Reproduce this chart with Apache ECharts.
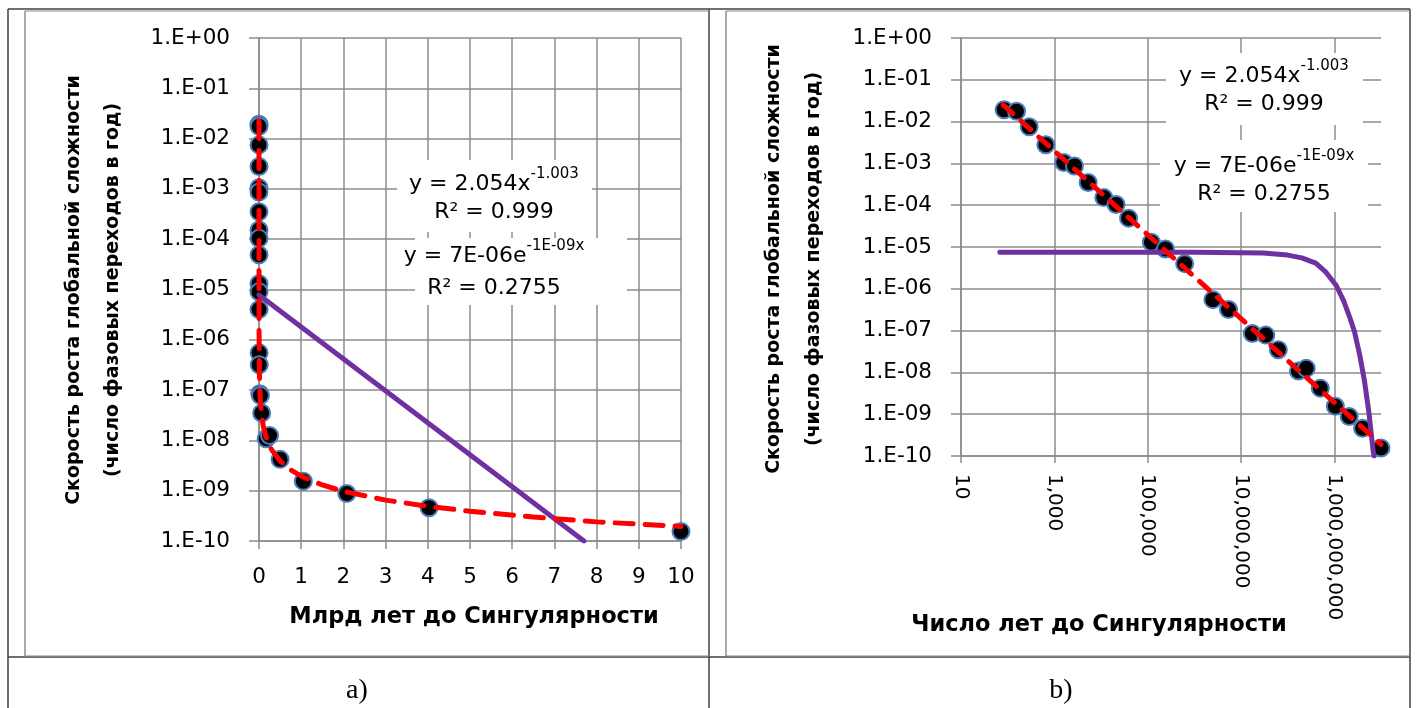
<!DOCTYPE html>
<html><head><meta charset="utf-8">
<script src="https://cdn.jsdelivr.net/npm/echarts@6/dist/echarts.min.js"></script>
<style>html,body{margin:0;padding:0;background:#fff;}#c{width:1416px;height:708px;}</style>
</head><body><div id="c"></div>
<script>
// ---- data ----
const yearsToSingularity = [84, 155, 289, 658, 1600, 2700, 5300, 11500, 21000, 39000, 120000, 240000, 620000,
  2.5e6, 5.4e6, 1.75e7, 3.4e7, 6.3e7, 1.7e8, 2.5e8, 5.0e8, 1.05e9, 2.08e9, 4.03e9, 1.0e10];
const growthRate = [1.93e-2, 1.76e-2, 7.5e-3, 2.8e-3, 1.05e-3, 8.7e-4, 3.5e-4, 1.52e-4, 1.04e-4, 4.9e-5, 1.3e-5, 9.0e-6, 4.0e-6,
  5.5e-7, 3.2e-7, 8.5e-8, 7.8e-8, 3.5e-8, 1.08e-8, 1.25e-8, 4.2e-9, 1.55e-9, 8.8e-10, 4.6e-10, 1.55e-10];

const rateTicks = [1e-10, 1e-9, 1e-8, 1e-7, 1e-6, 1e-5, 1e-4, 1e-3, 1e-2, 1e-1, 1];
const yearTicks = [10, 1e3, 1e5, 1e7, 1e9];

// trend lines as seen in the picture (a: x in billions of years, b: x in years)
const powerTrendA_x = [8e-8, 0.001, 0.01, 0.03, 0.06, 0.1, 0.15, 0.2, 0.3, 0.5, 0.75, 1, 1.5, 2, 3, 4, 5, 6.5, 8, 10];
const powerTrendA_y = [2.3e-2, 2.0e-6, 2.0e-7, 6.5e-8, 3.3e-8, 1.95e-8, 1.3e-8, 9.8e-9, 6.5e-9, 3.9e-9, 2.6e-9, 1.95e-9, 1.3e-9, 9.7e-10, 6.5e-10, 4.9e-10, 3.9e-10, 3.0e-10, 2.4e-10, 1.95e-10];
const expTrendA_x = [0, 7.7];
const expTrendA_y = [7.8e-6, 1.0e-10];
const powerTrendB_x = [80, 1.0e10];
const powerTrendB_y = [2.5e-2, 1.9e-10];
const expTrendB_x = [68, 1e6, 3e7, 1e8, 2e8, 4e8, 6.6e8, 1.1e9, 1.6e9, 2.1e9, 2.7e9, 3.5e9, 4.4e9, 5.5e9, 6.8e9, 7.1e9];
const expTrendB_y = [7.5e-6, 7.5e-6, 7.2e-6, 6.4e-6, 5.5e-6, 4.1e-6, 2.5e-6, 1.2e-6, 5.0e-7, 2.2e-7, 9.5e-8, 2.6e-8, 6.5e-9, 1.1e-9, 1.3e-10, 1.0e-10];

const yTitle = 'Скорость роста глобальной сложности\n(число фазовых переходов в год)';
const xTitleA = 'Млрд лет до Сингулярности';
const xTitleB = 'Число лет до Сингулярности';

// ---- helpers ----
const zip = (xs, ys) => xs.map((x, i) => [x, ys[i]]);
const sciLabel = v => { const e = Math.round(Math.log10(v)); const a = Math.abs(e); return '1.E' + (e < 0 ? '-' : '+') + (a < 10 ? '0' : '') + a; };
const commaLabel = v => String(Math.round(v)).replace(/\B(?=(\d{3})+(?!\d))/g, ',');

const GRID = '#8c8c8c';
const FONT = 'DejaVu Sans';
const lineCommon = { lineStyle: { color: GRID, width: 1.5 } };

function yAxisLog(gi) {
  return {
    gridIndex: gi, type: 'log', logBase: 10, min: 1e-10, max: 1,
    axisLine: { show: true, ...lineCommon },
    axisTick: { show: true, length: 10, customValues: rateTicks, ...lineCommon },
    splitLine: { show: true, ...lineCommon },
    axisLabel: { customValues: rateTicks, formatter: sciLabel, margin: 29, color: '#000', fontSize: 21.5, fontFamily: FONT }
  };
}

const markerStyle = { color: '#000', borderColor: '#4a7ebb', borderWidth: 2, opacity: 1 };

const chart = echarts.init(document.getElementById('c'), null, { renderer: 'canvas' });

function eqBlock(cx, y1, y2, y3, y4) {
  const s = { fontFamily: FONT, fill: '#000' };
  return [
    { type: 'text', x: cx, y: y1, z: 12, style: { ...s, text: '{n|y = 2.054x}{s|-1.003}', align: 'center', textAlign: 'center', verticalAlign: 'middle', textVerticalAlign: 'middle',
      rich: { n: { fontSize: 22, fontFamily: FONT, lineHeight: 28, verticalAlign: 'bottom' }, s: { fontSize: 15, fontFamily: FONT, lineHeight: 28, verticalAlign: 'top' } } } },
    { type: 'text', x: cx, y: y2, z: 12, style: { ...s, text: 'R² = 0.999', fontSize: 22, align: 'center', textAlign: 'center', verticalAlign: 'middle', textVerticalAlign: 'middle' } },
    { type: 'text', x: cx, y: y3, z: 12, style: { ...s, text: '{n|y = 7E-06e}{s|-1E-09x}', align: 'center', textAlign: 'center', verticalAlign: 'middle', textVerticalAlign: 'middle',
      rich: { n: { fontSize: 22, fontFamily: FONT, lineHeight: 28, verticalAlign: 'bottom' }, s: { fontSize: 15, fontFamily: FONT, lineHeight: 28, verticalAlign: 'top' } } } },
    { type: 'text', x: cx, y: y4, z: 12, style: { ...s, text: 'R² = 0.2755', fontSize: 22, align: 'center', textAlign: 'center', verticalAlign: 'middle', textVerticalAlign: 'middle' } }
  ];
}

const TABLE = '#404040';
const AREA = '#8c8c8c';
const ln = (x1, y1, x2, y2, c, w) => ({ type: 'line', z: 20, shape: { x1, y1, x2, y2 }, style: { stroke: c, lineWidth: w } });

const graphics = [
  // table
  ln(8, 9, 1410, 9, TABLE, 1.5), ln(8, 9, 8, 708, TABLE, 1.5), ln(1410, 9, 1410, 708, TABLE, 1.5),
  ln(709, 9, 709, 708, TABLE, 1.5), ln(8, 657, 1410, 657, TABLE, 1.5),
  // chart areas
  ln(25, 11, 709, 11, AREA, 1.2), ln(25, 11, 25, 656, AREA, 1.5), ln(25, 656, 709, 656, AREA, 1.2),
  ln(726, 11, 1410, 11, AREA, 1.2), ln(726, 11, 726, 656, AREA, 1.5), ln(726, 656, 1410, 656, AREA, 1.2),
  // white label boxes
  { type: 'rect', z: 10, shape: { x: 397, y: 160, width: 195, height: 72 }, style: { fill: '#fff' } },
  { type: 'rect', z: 10, shape: { x: 415, y: 238, width: 212, height: 67 }, style: { fill: '#fff' } },
  { type: 'rect', z: 10, shape: { x: 1166, y: 53, width: 197, height: 72 }, style: { fill: '#fff' } },
  { type: 'rect', z: 10, shape: { x: 1160, y: 140, width: 208, height: 72 }, style: { fill: '#fff' } },
  ...eqBlock(494, 181, 212, 253, 288),
  ...eqBlock(1264, 73, 104, 163, 194),
  // axis titles
  { type: 'text', x: 94, y: 290, rotation: Math.PI / 2, z: 12, style: { text: yTitle, fontFamily: FONT, fontWeight: 'bold', fontSize: 19, lineHeight: 39, fill: '#000', align: 'center', textAlign: 'center', verticalAlign: 'middle', textVerticalAlign: 'middle' } },
  { type: 'text', x: 794, y: 259, rotation: Math.PI / 2, z: 12, style: { text: yTitle, fontFamily: FONT, fontWeight: 'bold', fontSize: 19, lineHeight: 40, fill: '#000', align: 'center', textAlign: 'center', verticalAlign: 'middle', textVerticalAlign: 'middle' } },
  { type: 'text', x: 474, y: 617, z: 12, style: { text: xTitleA, fontFamily: FONT, fontWeight: 'bold', fontSize: 22.5, fill: '#000', align: 'center', textAlign: 'center', verticalAlign: 'middle', textVerticalAlign: 'middle' } },
  { type: 'text', x: 1099, y: 625, z: 12, style: { text: xTitleB, fontFamily: FONT, fontWeight: 'bold', fontSize: 22.5, fill: '#000', align: 'center', textAlign: 'center', verticalAlign: 'middle', textVerticalAlign: 'middle' } },
  // captions
  { type: 'text', x: 357, y: 691, z: 12, style: { text: 'a)', fontFamily: 'Liberation Serif', fontSize: 28, fill: '#000', align: 'center', textAlign: 'center', verticalAlign: 'middle', textVerticalAlign: 'middle' } },
  { type: 'text', x: 1061, y: 691, z: 12, style: { text: 'b)', fontFamily: 'Liberation Serif', fontSize: 28, fill: '#000', align: 'center', textAlign: 'center', verticalAlign: 'middle', textVerticalAlign: 'middle' } }
];

const option = {
  animation: false,
  backgroundColor: '#fff',
  textStyle: { fontFamily: FONT },
  grid: [
    { left: 259, top: 38, width: 422, height: 503 },
    { left: 961, top: 38, width: 420, height: 418 }
  ],
  xAxis: [
    { gridIndex: 0, type: 'value', min: 0, max: 10, interval: 1,
      axisLine: { show: true, onZero: false, ...lineCommon },
      axisTick: { show: true, length: 8, ...lineCommon },
      splitLine: { show: true, ...lineCommon },
      axisLabel: { margin: 25, color: '#000', fontSize: 21.5, fontFamily: FONT } },
    { gridIndex: 1, type: 'log', logBase: 10, min: 10, max: 1e10,
      axisLine: { show: true, onZero: false, ...lineCommon },
      axisTick: { show: true, length: 7, customValues: yearTicks, ...lineCommon },
      splitLine: { show: true, ...lineCommon },
      axisLabel: { customValues: yearTicks, formatter: commaLabel, rotate: -90, margin: 18, color: '#000', fontSize: 20, fontFamily: FONT } }
  ],
  yAxis: [yAxisLog(0), yAxisLog(1)],
  graphic: { elements: graphics },
  series: [
    { type: 'scatter', xAxisIndex: 0, yAxisIndex: 0, z: 2, symbolSize: 17, itemStyle: markerStyle,
      data: yearsToSingularity.map((v, i) => [v / 1e9, growthRate[i]]) },
    { type: 'line', xAxisIndex: 0, yAxisIndex: 0, z: 3, symbol: 'none', clip: true,
      lineStyle: { color: '#7030a0', width: 5, cap: 'round' }, data: zip(expTrendA_x, expTrendA_y) },
    { type: 'line', xAxisIndex: 0, yAxisIndex: 0, z: 4, symbol: 'none', clip: true,
      lineStyle: { color: '#ff0000', width: 5, type: [18, 12], cap: 'round' }, data: zip(powerTrendA_x, powerTrendA_y) },
    { type: 'scatter', xAxisIndex: 1, yAxisIndex: 1, z: 2, symbolSize: 17, itemStyle: markerStyle, clip: false,
      data: zip(yearsToSingularity, growthRate) },
    { type: 'line', xAxisIndex: 1, yAxisIndex: 1, z: 3, symbol: 'none', clip: true,
      lineStyle: { color: '#7030a0', width: 5, cap: 'round' }, data: zip(expTrendB_x, expTrendB_y) },
    { type: 'line', xAxisIndex: 1, yAxisIndex: 1, z: 4, symbol: 'none', clip: true,
      lineStyle: { color: '#ff0000', width: 5, type: [13, 11], cap: 'round' }, data: zip(powerTrendB_x, powerTrendB_y) }
  ]
};
chart.setOption(option);
</script>
</body></html>
